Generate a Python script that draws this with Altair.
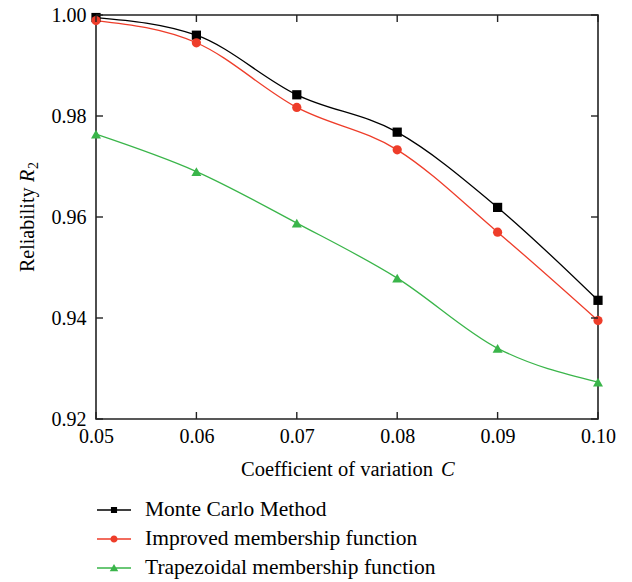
import altair as alt
import pandas as pd

# Coefficient of variation and the reliability obtained by each method
cv = [0.05, 0.06, 0.07, 0.08, 0.09, 0.10]
monte_carlo = [0.9995, 0.9960, 0.9842, 0.9768, 0.9619, 0.9435]
improved = [0.9989, 0.9945, 0.9817, 0.9733, 0.9570, 0.9395]
trapezoidal = [0.9764, 0.9690, 0.9588, 0.9479, 0.9340, 0.9273]

series_names = ["Monte Carlo Method", "Improved membership function", "Trapezoidal membership function"]
series_colors = ["#000000", "#EE3D2A", "#3AB54A"]
series_shapes = ["square", "circle", "triangle-up"]

x_ticks = [0.05, 0.06, 0.07, 0.08, 0.09, 0.10]
y_ticks = [0.92, 0.94, 0.96, 0.98, 1.00]

x_title = ["Coefficient of variation", "C"]
y_title = ["Reliability", "R", "2"]

FONT = "Liberation Serif"
W, H = 502, 404
TICK = 7

rows = []
for name, vals in zip(series_names, [monte_carlo, improved, trapezoidal]):
    for c, r in zip(cv, vals):
        rows.append({"series": name, "cv": c, "r": r})
df = pd.DataFrame(rows)

xscale = alt.Scale(domain=[0.05, 0.10], nice=False, zero=False)
yscale = alt.Scale(domain=[0.92, 1.00], nice=False, zero=False)
cscale = alt.Scale(domain=series_names, range=series_colors)

# legend symbols: a short line segment with the marker in the middle
legend_paths = [
    "M-1,-0.04H1V0.04H-1Z M-0.18,-0.18H0.18V0.18H-0.18Z",
    "M-1,-0.04H1V0.04H-1Z M-0.21,0A0.21,0.21 0 1,1 0.21,0A0.21,0.21 0 1,1 -0.21,0Z",
    "M-1,-0.04H1V0.04H-1Z M0,-0.24L0.25,0.19L-0.25,0.19Z",
]
sscale = alt.Scale(domain=series_names, range=legend_paths)

xaxis = alt.Axis(values=x_ticks, format=".2f", labelFont=FONT, labelFontSize=20,
                 labelColor="black", ticks=False, domain=False, grid=False,
                 labelPadding=7, title=None, labelFlush=False, labelOverlap=False)
yaxis = alt.Axis(values=y_ticks, format=".2f", labelFont=FONT, labelFontSize=20,
                 labelColor="black", ticks=False, domain=False, grid=False,
                 labelPadding=10, title=None, labelOverlap=False)
legend = alt.Legend(title=None, orient="none", legendX=1, legendY=478,
                    labelFont=FONT, labelFontSize=21.5, labelColor="black",
                    symbolSize=1156, symbolStrokeWidth=0, symbolOpacity=1,
                    labelOffset=14, rowPadding=1, padding=0, labelLimit=400)

X = alt.X("cv:Q", scale=xscale, axis=xaxis)
Y = alt.Y("r:Q", scale=yscale, axis=yaxis)
COLOR = alt.Color("series:N", scale=cscale, legend=legend)

base = alt.Chart(df)

lines = base.mark_line(interpolate="monotone", strokeWidth=1.3).encode(
    x=X, y=Y, color=COLOR, detail="series:N",
)

point_layers = []
for name, shape, size in zip(series_names, series_shapes, [85, 85, 100]):
    point_layers.append(
        base.transform_filter(alt.datum.series == name)
        .mark_point(shape=shape, filled=True, opacity=1, size=size, strokeWidth=0)
        .encode(x=X, y=Y, color=COLOR)
    )

legend_layer = (
    base.transform_filter("false")
    .mark_point(filled=True, opacity=1, size=1156, strokeWidth=0)
    .encode(x=X, y=Y, color=COLOR,
            shape=alt.Shape("series:N", scale=sscale, legend=legend))
)

# inward ticks on all four sides of the frame
xt = pd.DataFrame({"v": x_ticks})
yt = pd.DataFrame({"v": y_ticks})
tick_style = dict(color="#222222", strokeWidth=1.4)
XT = alt.X("v:Q", scale=xscale, axis=xaxis)
YT = alt.Y("v:Q", scale=yscale, axis=yaxis)
bottom_ticks = alt.Chart(xt).mark_rule(**tick_style).encode(
    x=XT, y=alt.value(H), y2=alt.value(H - TICK))
top_ticks = alt.Chart(xt).mark_rule(**tick_style).encode(
    x=XT, y=alt.value(0), y2=alt.value(TICK))
left_ticks = alt.Chart(yt).mark_rule(**tick_style).encode(
    y=YT, x=alt.value(0), x2=alt.value(TICK))
right_ticks = alt.Chart(yt).mark_rule(**tick_style).encode(
    y=YT, x=alt.value(W), x2=alt.value(W - TICK))

# axis titles, with the italic symbols set separately
def title_text(text, x, y, **kw):
    return alt.Chart(pd.DataFrame({"t": [text]})).mark_text(
        font=FONT, color="black", baseline="alphabetic", **kw
    ).encode(text="t:N", x=alt.value(x), y=alt.value(y))

xt_main = title_text(x_title[0], 337, 461, align="right", fontSize=20.5)
xt_sym = title_text(x_title[1], 345, 461, align="left", fontSize=20.5, fontStyle="italic")
yt_main = title_text(y_title[0], -62, 257, align="left", angle=270, fontSize=20)
yt_sym = title_text(y_title[1], -62, 167, align="left", angle=270, fontSize=20, fontStyle="italic")
yt_sub = title_text(y_title[2], -58, 154, align="left", angle=270, fontSize=14)

chart = alt.layer(
    lines, *point_layers, legend_layer,
    bottom_ticks, top_ticks, left_ticks, right_ticks,
    xt_main, xt_sym, yt_main, yt_sym, yt_sub,
).properties(
    width=W, height=H,
    background="white",
    autosize=alt.AutoSizeParams(type="none"),
    padding={"left": 96, "top": 15, "right": 34, "bottom": 163},
).configure_view(
    stroke="#222222", strokeWidth=1.6
)

chart.save("out.html", embed_options={"renderer": "svg", "actions": False})
